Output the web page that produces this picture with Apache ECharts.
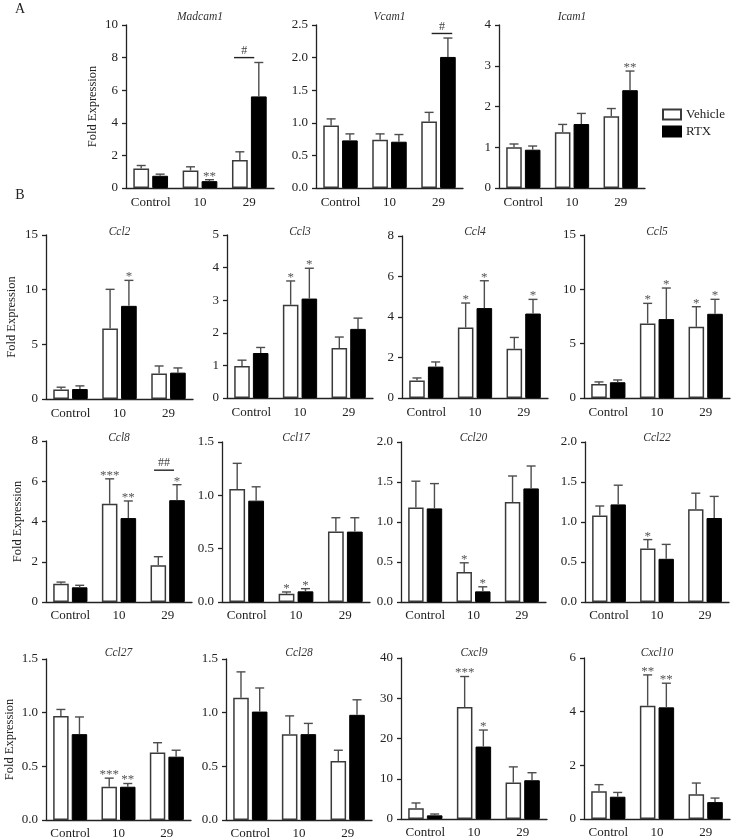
<!DOCTYPE html>
<html>
<head>
<meta charset="utf-8">
<title>Fold expression</title>
<script src="https://cdn.jsdelivr.net/npm/echarts@6/dist/echarts.min.js"></script>
<style>
  html, body { margin: 0; padding: 0; background: #fff; }
  #chart { width: 732px; height: 840px; }
</style>
</head>
<body>
<div id="chart"></div>
<script>
// ---- data ----
const categories = ['Control', '10', '29'];
const genes = ['Madcam1', 'Vcam1', 'Icam1',
  'Ccl2', 'Ccl3', 'Ccl4', 'Ccl5',
  'Ccl8', 'Ccl17', 'Ccl20', 'Ccl22',
  'Ccl27', 'Ccl28', 'Cxcl9', 'Cxcl10'];

// bar heights (mean)
const vehicleMean = [
  [1.19, 1.07, 1.72], [0.96, 0.74, 1.02], [1.0, 1.37, 1.76],
  [0.88, 6.45, 2.33], [0.98, 2.86, 1.53], [0.87, 3.48, 2.43], [1.29, 6.86, 6.55],
  [0.91, 4.88, 1.83], [1.06, 0.078, 0.66], [1.18, 0.375, 1.25], [1.08, 0.67, 1.16],
  [0.97, 0.31, 0.63], [1.14, 0.80, 0.55], [2.66, 27.8, 9.05], [1.03, 4.22, 0.92]
];
const rtxMean = [
  [0.75, 0.42, 5.62], [0.73, 0.71, 2.01], [0.94, 1.57, 2.4],
  [0.91, 8.52, 2.41], [1.38, 3.05, 2.12], [1.55, 4.44, 4.17], [1.45, 7.26, 7.75],
  [0.73, 4.17, 5.06], [0.95, 0.10, 0.66], [1.17, 0.133, 1.42], [1.22, 0.54, 1.05],
  [0.80, 0.31, 0.59], [1.01, 0.80, 0.98], [0.91, 18.0, 9.63], [0.83, 4.16, 0.63]
];
// top of the error bar (mean + SEM)
const vehicleTop = [
  [1.38, 1.30, 2.22], [1.06, 0.83, 1.16], [1.08, 1.56, 1.95],
  [1.08, 10.03, 3.02], [1.16, 3.59, 1.87], [0.99, 4.69, 2.99], [1.48, 8.71, 8.40],
  [0.99, 6.12, 2.25], [1.30, 0.094, 0.79], [1.51, 0.49, 1.575], [1.20, 0.78, 1.36],
  [1.03, 0.39, 0.72], [1.38, 0.97, 0.65], [3.98, 35.4, 12.95], [1.28, 5.37, 1.34]
];
const rtxTop = [
  [0.85, 0.51, 7.70], [0.83, 0.82, 2.30], [1.03, 1.83, 2.87],
  [1.20, 10.85, 2.84], [1.55, 3.98, 2.45], [1.78, 5.79, 4.87], [1.66, 10.12, 9.08],
  [0.83, 5.02, 5.83], [1.08, 0.125, 0.79], [1.48, 0.19, 1.70], [1.46, 0.72, 1.32],
  [0.96, 0.34, 0.65], [1.23, 0.90, 1.12], [1.24, 22.1, 11.5], [0.99, 5.06, 0.78]
];
const vehicleStars = [
  ['', '', ''], ['', '', ''], ['', '', ''],
  ['', '', ''], ['', '*', ''], ['', '*', ''], ['', '*', '*'],
  ['', '***', ''], ['', '*', ''], ['', '*', ''], ['', '*', ''],
  ['', '***', ''], ['', '', ''], ['', '***', ''], ['', '**', '']
];
const rtxStars = [
  ['', '**', ''], ['', '', ''], ['', '', '**'],
  ['', '*', ''], ['', '*', ''], ['', '*', '*'], ['', '*', '*'],
  ['', '**', '*'], ['', '*', ''], ['', '*', ''], ['', '', ''],
  ['', '**', ''], ['', '', ''], ['', '*', ''], ['', '**', '']
];
// y axis ticks
const yMax  = [10, 2.5, 4, 15, 5, 8, 15, 8, 1.5, 2, 2, 1.5, 1.5, 40, 6];
const yStep = [2, 0.5, 1, 5, 1, 2, 5, 2, 0.5, 0.5, 0.5, 0.5, 0.5, 10, 2];
// vehicle vs RTX brackets: [panel, category, y, label]
const brackets = [[0, 2, 8.0, '#'], [1, 2, 2.37, '#'], [7, 2, 6.55, '##']];

// ---- layout ----
const FONT = '"Liberation Serif", "DejaVu Serif", serif';
// left, top, width, height of each plot area
const boxes = [
  [126, 25, 148, 163], [316, 25, 147, 163], [499, 25, 146, 163],
  [46, 235, 147, 164], [227, 235, 146, 163], [402, 236, 146, 162], [584, 235, 146, 163],
  [46, 441, 146, 161], [222, 442, 148, 160], [401, 442, 145, 160], [585, 442, 144, 160],
  [46, 659, 145, 162], [226, 659, 146, 162], [401, 658, 146, 161], [584, 658, 146, 161]
];
const titleY = [17, 17, 17, 232, 232, 232, 232, 438, 438, 438, 438, 653, 653, 653, 653];
const labelMargin = [8, 8, 8, 8, 8, 8, 8, 7, 7, 7, 7, 7, 7, 7, 7];
const yNameGap = { 0: 27, 3: 28, 7: 22, 11: 30 };
const bracketSpan = [[-0.31, 0.10], [-0.14, 0.28], [-0.28, 0.13]];
const BAR_OFFSET = 0.192; // centre of each bar, as share of the band

const grids = [], xAxes = [], yAxes = [], series = [], graphics = [];

function errorBars(p) {
  return function (params, api) {
    const cat = api.value(0);
    const side = api.value(3);
    const band = api.size([1, 0])[0];
    const x = api.coord([cat, 0])[0] + side * BAR_OFFSET * band;
    const yTop = api.coord([cat, api.value(1)])[1];
    const yBase = api.coord([cat, api.value(2)])[1];
    const star = side < 0 ? vehicleStars[p][cat] : rtxStars[p][cat];
    const stroke = { stroke: '#4d4d4d', lineWidth: 1.4 };
    const children = [
      { type: 'line', shape: { x1: x, y1: yBase, x2: x, y2: yTop }, style: stroke },
      { type: 'line', shape: { x1: x - 4.5, y1: yTop, x2: x + 4.5, y2: yTop }, style: stroke }
    ];
    if (star) {
      children.push({
        type: 'text', x: x, y: yTop + 3,
        style: { text: star, align: 'center', verticalAlign: 'bottom', font: '13px ' + FONT, fill: '#555' }
      });
    }
    return { type: 'group', children: children };
  };
}

genes.forEach(function (gene, p) {
  const b = boxes[p];
  const decimals = yStep[p] < 1 ? 1 : 0;
  grids.push({ left: b[0], top: b[1], width: b[2], height: b[3], containLabel: false });
  xAxes.push({
    type: 'category', gridIndex: p, data: categories,
    axisLine: { lineStyle: { color: '#222', width: 1.3 } },
    axisTick: { alignWithLabel: true, length: 4, lineStyle: { color: '#222', width: 1.3 } },
    axisLabel: { interval: 0, hideOverlap: false, fontFamily: FONT, fontSize: 13, color: '#222', margin: labelMargin[p] }
  });
  const y = {
    type: 'value', gridIndex: p, min: 0, max: yMax[p], interval: yStep[p],
    splitLine: { show: false },
    axisLine: { show: true, lineStyle: { color: '#222', width: 1.3 } },
    axisTick: { show: true, length: 4, lineStyle: { color: '#222', width: 1.3 } },
    axisLabel: {
      fontFamily: FONT, fontSize: 13, color: '#222', margin: 8,
      formatter: function (v) { return v.toFixed(decimals); }
    }
  };
  if (yNameGap[p] !== undefined) {
    y.name = 'Fold Expression';
    y.nameLocation = 'middle';
    y.nameGap = yNameGap[p];
    y.nameTextStyle = { fontFamily: FONT, fontSize: 12.5, color: '#222' };
  }
  yAxes.push(y);

  series.push({
    name: 'Vehicle', type: 'bar', xAxisIndex: p, yAxisIndex: p,
    data: vehicleMean[p], barWidth: '32%', barGap: '20%',
    itemStyle: { color: '#fff', borderColor: '#3a3a3a', borderWidth: 1.5 },
    emphasis: { disabled: true }
  });
  series.push({
    name: 'RTX', type: 'bar', xAxisIndex: p, yAxisIndex: p,
    data: rtxMean[p], barWidth: '32%', barGap: '20%',
    itemStyle: { color: '#000', borderColor: '#000', borderWidth: 1 },
    emphasis: { disabled: true }
  });
  const errData = [];
  categories.forEach(function (c, i) {
    errData.push([i, vehicleTop[p][i], vehicleMean[p][i], -1]);
    errData.push([i, rtxTop[p][i], rtxMean[p][i], 1]);
  });
  series.push({
    type: 'custom', xAxisIndex: p, yAxisIndex: p, z: 5, silent: true,
    encode: { x: 0, y: 1 }, data: errData, renderItem: errorBars(p)
  });

  graphics.push({
    type: 'text', x: b[0] + b[2] / 2, y: titleY[p],
    style: { text: gene, align: 'center', verticalAlign: 'middle', font: 'italic 11.5px ' + FONT, fill: '#333' }
  });
});

brackets.forEach(function (br, k) {
  const span = bracketSpan[k];
  series.push({
    type: 'custom', xAxisIndex: br[0], yAxisIndex: br[0], z: 5, silent: true,
    encode: { x: 0, y: 1 }, data: [[br[1], br[2]]],
    renderItem: function (params, api) {
      const band = api.size([1, 0])[0];
      const pt = api.coord([api.value(0), api.value(1)]);
      const x1 = pt[0] + span[0] * band, x2 = pt[0] + span[1] * band;
      return {
        type: 'group', children: [
          { type: 'line', shape: { x1: x1, y1: pt[1], x2: x2, y2: pt[1] }, style: { stroke: '#222', lineWidth: 1.4 } },
          { type: 'text', x: (x1 + x2) / 2, y: pt[1] - 1,
            style: { text: br[3], align: 'center', verticalAlign: 'bottom', font: '12px ' + FONT, fill: '#444' } }
        ]
      };
    }
  });
});

graphics.push({ type: 'text', x: 20, y: 9, style: { text: 'A', align: 'center', verticalAlign: 'middle', font: '14px ' + FONT, fill: '#222' } });
graphics.push({ type: 'text', x: 20, y: 195, style: { text: 'B', align: 'center', verticalAlign: 'middle', font: '14px ' + FONT, fill: '#222' } });

const chart = echarts.init(document.getElementById('chart'));
chart.setOption({
  backgroundColor: '#fff',
  animation: false,
  legend: {
    data: ['Vehicle', 'RTX'], orient: 'vertical', left: 662, top: 108,
    padding: 0, itemWidth: 18, itemHeight: 10, itemGap: 4, selectedMode: false,
    icon: 'rect',
    textStyle: { fontFamily: FONT, fontSize: 13, color: '#222' }
  },
  grid: grids,
  xAxis: xAxes,
  yAxis: yAxes,
  series: series,
  graphic: graphics
});
</script>
</body>
</html>
